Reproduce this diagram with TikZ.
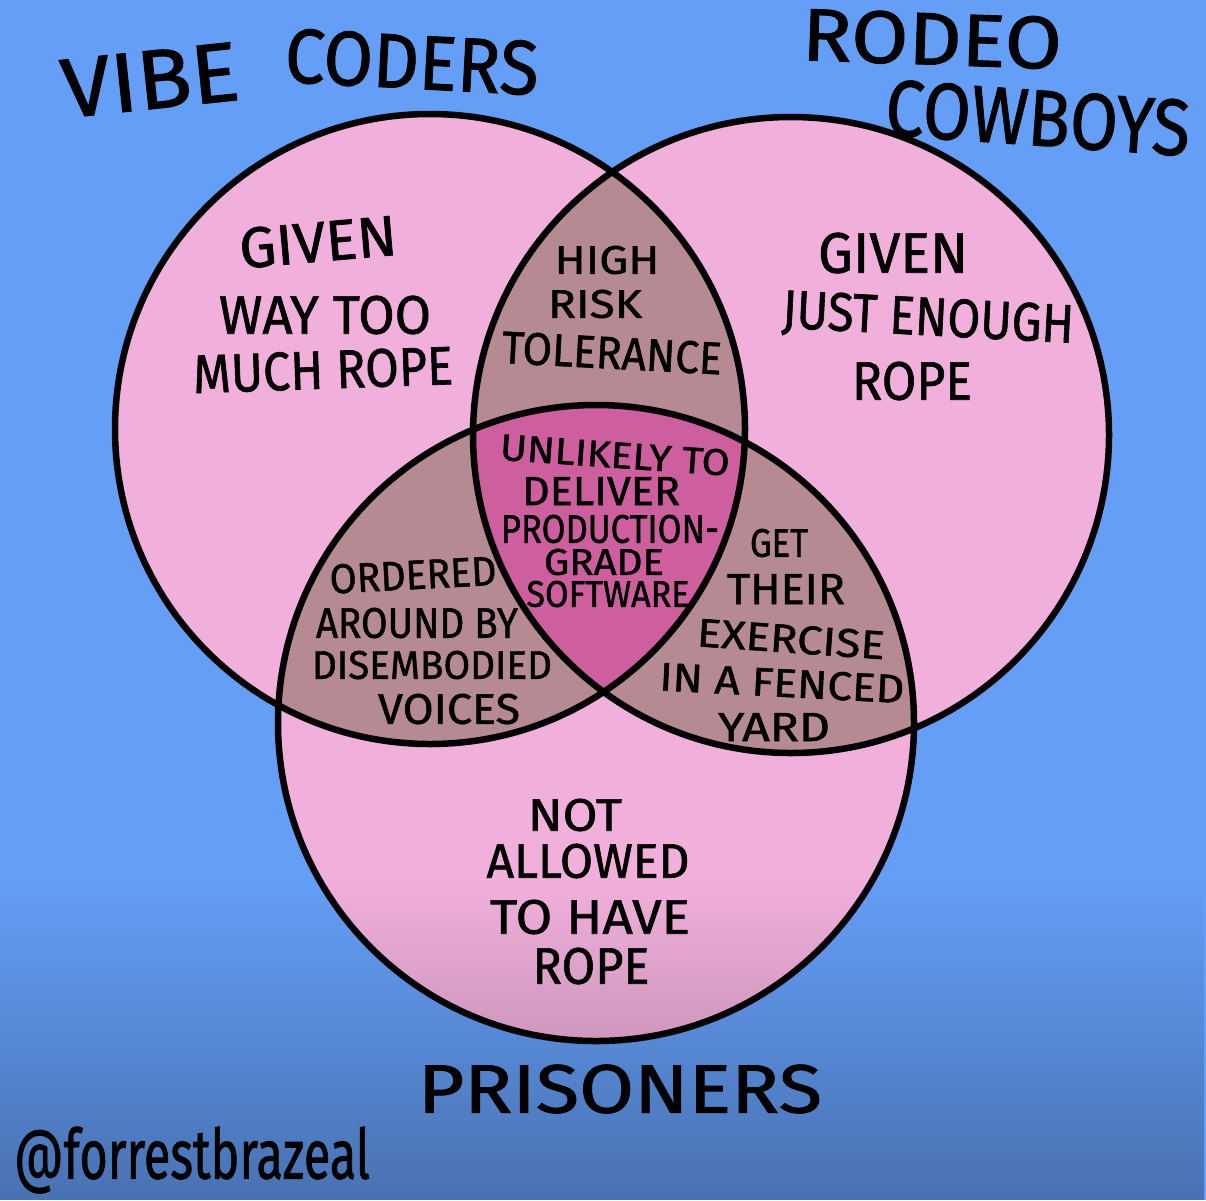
\documentclass[tikz,border=0pt]{standalone}
\usepackage{graphicx}
\usepackage{fontspec}
\setmainfont{Fira Sans}[FakeBold=1.2]
\usetikzlibrary{fadings}
\definecolor{skyblue}{HTML}{659EF7}
\definecolor{lobe}{HTML}{F1B0DC}
\definecolor{pairzone}{HTML}{B58A93}
\definecolor{corezone}{HTML}{CE5F9E}
\tikzfading[name=dimdown, top color=transparent!100, bottom color=transparent!72]
\newcommand{\hand}[6][0]{\node[handtext, rotate=#1] (#2) at (#3) {\resizebox{#4pt}{#5pt}{#6}};}
\tikzset{handtext/.style={inner sep=0pt, outer sep=0pt, text=black, anchor=center},
  ring/.style={draw=black, line width=6.5pt}}
\begin{document}
\begin{tikzpicture}[x=1pt,y=-1pt]
\useasboundingbox (0,0) rectangle (1206,1200);
\fill[skyblue] (0,0) rectangle (1206,1200);
\def\ca{(430,429) circle[radius=315pt]}
\def\cb{(791,435) circle[radius=318pt]}
\def\cc{(596,723) circle[radius=318pt]}
\fill[lobe] \ca; \fill[lobe] \cb; \fill[lobe] \cc;
\begin{scope}\clip \ca; \fill[pairzone] \cb; \fill[pairzone] \cc; \end{scope}
\begin{scope}\clip \cb; \fill[pairzone] \cc; \end{scope}
\begin{scope}\clip \ca; \clip \cb; \fill[corezone] \cc; \end{scope}
\fill[black, path fading=dimdown] (0,880) rectangle (1206,1200);
\draw[ring] \ca; \draw[ring] \cb; \draw[ring] \cc;
% titles
\hand[6]{t1}{150,80}{178}{58}{VIBE}
\hand[-3]{t2}{412,62}{254}{54}{CODERS}
\hand[-2]{t3}{932,39}{260}{52}{RODEO}
\hand[-4]{t4}{1038,118}{305}{56}{COWBOYS}
\hand{t5}{620,1089}{404}{48}{PRISONERS}
\hand{t6}{192,1160}{356}{52}{@forrestbrazeal}
% vibe coders
\hand[5]{a1}{318,242}{158}{40}{GIVEN}
\hand{a2}{325,315}{212}{38}{WAY TOO}
\hand[2]{a3}{323,370}{260}{38}{MUCH ROPE}
% cowboys
\hand{b1}{893,253}{150}{40}{GIVEN}
\hand[-3]{b2}{928,320}{292}{38}{JUST ENOUGH}
\hand{b3}{912,381}{120}{38}{ROPE}
% vibe & cowboys
\hand{ab1}{607,260}{105}{28}{HIGH}
\hand{ab2}{595,304}{94}{28}{RISK}
\hand[-3]{ab3}{612,353}{220}{32}{TOLERANCE}
% centre
\hand[-4]{m1}{615,455}{230}{26}{UNLIKELY TO}
\hand{m2}{601,491}{158}{28}{DELIVER}
\hand{m3}{610,529}{218}{28}{PRODUCTION-}
\hand{m4}{604,562}{120}{26}{GRADE}
\hand{m5}{608,594}{163}{26}{SOFTWARE}
% cowboys & prisoners
\hand{bc1}{779,543}{58}{28}{GET}
\hand{bc2}{786,589}{118}{30}{THEIR}
\hand[-4]{bc3}{791,639}{188}{28}{EXERCISE}
\hand[-3]{bc4}{782,683}{245}{28}{IN A FENCED}
\hand{bc5}{774,727}{112}{28}{YARD}
% vibe & prisoners
\hand[3]{ac1}{413,575}{167}{29}{ORDERED}
\hand{ac2}{417,623}{202}{30}{AROUND BY}
\hand{ac3}{432,665}{240}{28}{DISEMBODIED}
\hand{ac4}{449,709}{142}{30}{VOICES}
% prisoners
\hand{c1}{575,815}{94}{32}{NOT}
\hand{c2}{588,861}{203}{34}{ALLOWED}
\hand{c3}{590,917}{200}{34}{TO HAVE}
\hand{c4}{591,966}{117}{36}{ROPE}
\end{tikzpicture}
\end{document}
